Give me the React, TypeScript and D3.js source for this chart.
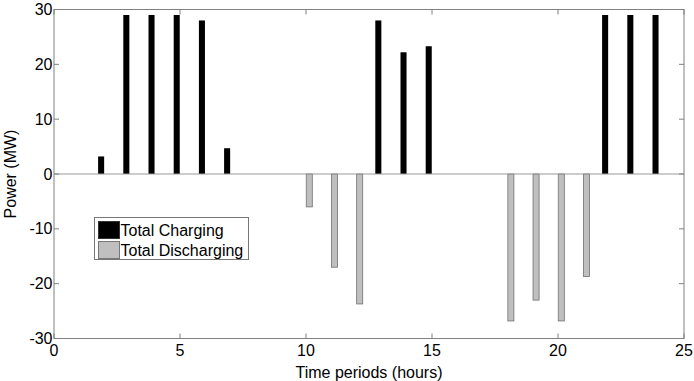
import React from "react";
import * as d3 from "d3";

const hours = [1,2,3,4,5,6,7,8,9,10,11,12,13,14,15,16,17,18,19,20,21,22,23,24];
const charging = [0,3.2,29,29,29,28,4.7,0,0,0,0,0,28,22.2,23.3,0,0,0,0,0,0,29,29,29];
const discharging = [0,0,0,0,0,0,0,0,0,-6,-17,-23.7,0,0,0,0,0,-26.8,-23,-26.8,-18.7,0,0,0];
const xTicks = [0,5,10,15,20,25];
const yTicks = [-30,-20,-10,0,10,20,30];
const seriesNames = ["Total Charging","Total Discharging"];

export default function App() {
  const W = 694, H = 381;
  const m = { left: 54, right: 10, top: 9.5, bottom: 42.5 };
  const x = d3.scaleLinear().domain([0,25]).range([m.left, W - m.right]);
  const y = d3.scaleLinear().domain([-30,30]).range([H - m.bottom, m.top]);
  const off = 0.13, bw = 0.24;
  const axisCol = "#808080";
  const font = "'Liberation Sans', Arial, sans-serif";
  const tl = 5;
  const fs = 16;
  return (
    <svg width={W} height={H} style={{ position: "absolute", left: 0, top: 0, background: "#fff" }} fontFamily={font}>
      <rect x={0} y={0} width={W} height={H} fill="#fff" />
      {hours.map((h, i) => charging[i] > 0 ? (
        <rect key={"c"+h} x={x(h - off - bw/2)} width={x(bw) - x(0)} y={y(charging[i])} height={y(0) - y(charging[i])} fill="#000" />
      ) : null)}
      {hours.map((h, i) => discharging[i] < 0 ? (
        <rect key={"d"+h} x={x(h + off - bw/2)} width={x(bw) - x(0)} y={y(0)} height={y(discharging[i]) - y(0)} fill="#bfbfbf" stroke="#707070" strokeWidth={0.8} />
      ) : null)}
      <line x1={x(0)} x2={x(25)} y1={y(0)} y2={y(0)} stroke="#999" strokeWidth={1.2} />
      <rect x={x(0)} y={y(30)} width={x(25) - x(0)} height={y(-30) - y(30)} fill="none" stroke={axisCol} strokeWidth={1} />
      {xTicks.map(t => (
        <g key={"xt"+t}>
          <line x1={x(t)} x2={x(t)} y1={y(-30)} y2={y(-30) - tl} stroke={axisCol} />
          <line x1={x(t)} x2={x(t)} y1={y(30)} y2={y(30) + tl} stroke={axisCol} />
          <text x={x(t)} y={y(-30) + 17} textAnchor="middle" fontSize={fs} fill="#000">{t}</text>
        </g>
      ))}
      {yTicks.map(t => (
        <g key={"yt"+t}>
          <line x1={x(0)} x2={x(0) + tl} y1={y(t)} y2={y(t)} stroke={axisCol} />
          <line x1={x(25)} x2={x(25) - tl} y1={y(t)} y2={y(t)} stroke={axisCol} />
          <text x={x(0) - 1.5} y={y(t) + 5.5} textAnchor="end" fontSize={fs} fill="#000">{t}</text>
        </g>
      ))}
      <text x={(x(0) + x(25)) / 2} y={H - 3} textAnchor="middle" fontSize={fs} fill="#000">Time periods (hours)</text>
      <text transform={`translate(16,${y(0)}) rotate(-90)`} textAnchor="middle" fontSize={fs} fill="#000">Power (MW)</text>
      <g>
        <rect x={94.5} y={217.5} width={154} height={42} fill="#fff" stroke="#777" strokeWidth={1} />
        <rect x={98.5} y={221.5} width={21} height={17} fill="#000" stroke="#333" strokeWidth={1} />
        <rect x={98.5} y={241.5} width={21} height={17} fill="#bfbfbf" stroke="#777" strokeWidth={1} />
        <text x={120.5} y={235.5} fontSize={fs} fill="#000">{seriesNames[0]}</text>
        <text x={120.5} y={255.5} fontSize={fs} fill="#000">{seriesNames[1]}</text>
      </g>
    </svg>
  );
}
